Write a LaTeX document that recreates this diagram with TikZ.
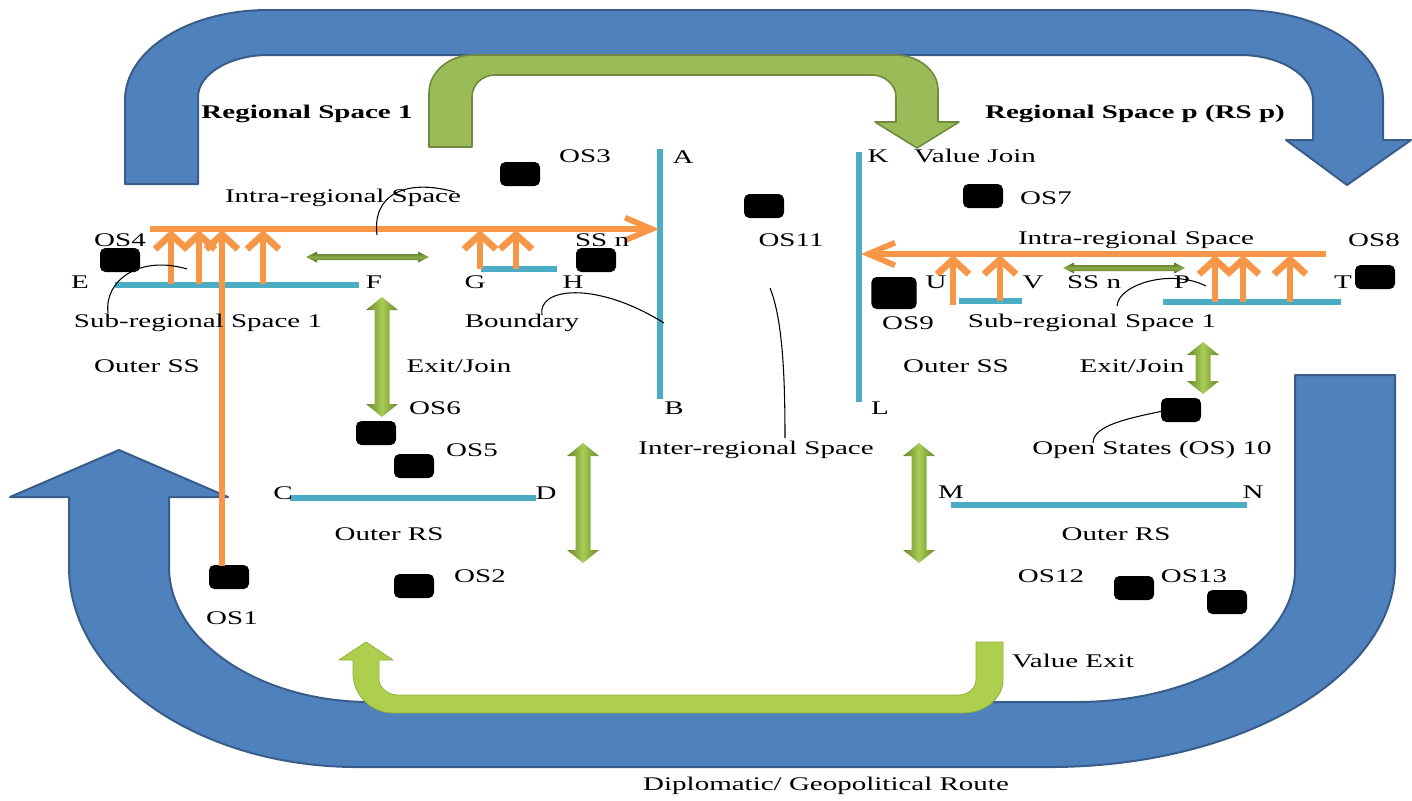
\documentclass[tikz,border=0pt]{standalone}
\usepackage{fontspec}
\setmainfont{Liberation Serif}
\usetikzlibrary{arrows.meta}
\definecolor{bluefill}{HTML}{4F81BD}
\definecolor{blueedge}{HTML}{385D8A}
\definecolor{greenfill}{HTML}{9BBB59}
\definecolor{greenedge}{HTML}{71893F}
\definecolor{limefill}{HTML}{AECF4E}
\definecolor{limeedge}{HTML}{8DAE3A}
\definecolor{orangeln}{HTML}{F79646}
\definecolor{cyanln}{HTML}{4BACC6}
\definecolor{darkgreen}{HTML}{66862A}
\definecolor{lightgreen}{HTML}{A9CC55}
\definecolor{olivedark}{HTML}{4F6B1E}
\definecolor{olivemid}{HTML}{8AAA4A}
\newcommand\vdblarrow[3]{%
  \shade[left color=darkgreen, right color=darkgreen, middle color=lightgreen]
  (#1,#2) -- (#1+16,#2+13) -- (#1+7.5,#2+13) -- (#1+7.5,#3-13) -- (#1+16,#3-13) -- (#1,#3)
  -- (#1-16,#3-13) -- (#1-7.5,#3-13) -- (#1-7.5,#2+13) -- (#1-16,#2+13) -- cycle;}
\newcommand\hdblarrow[3]{%
  \shade[top color=olivedark, bottom color=olivedark, middle color=olivemid]
  (#2,#1) -- (#2+11,#1-5.5) -- (#2+11,#1-3) -- (#3-11,#1-3) -- (#3-11,#1-5.5) -- (#3,#1)
  -- (#3-11,#1+5.5) -- (#3-11,#1+3) -- (#2+11,#1+3) -- (#2+11,#1+5.5) -- cycle;}
\begin{document}
\begin{tikzpicture}[x=0.75pt,y=-0.75pt,
  bigblue/.style={fill=bluefill, draw=blueedge, line width=1.5pt, line join=round},
  biggreen/.style={fill=greenfill, draw=greenedge, line width=1.2pt, line join=round},
  limegreen/.style={fill=limefill, draw=limeedge, line width=0.6pt, line join=round},
  cyanline/.style={draw=cyanln, line width=4pt},
  orangeH/.style={draw=orangeln, line width=4.3pt, -{Straight Barb[length=20pt,width=17pt]}},
  orangeV/.style={draw=orangeln, line width=5pt, -{Straight Barb[length=11pt,width=24pt]}},
  callout/.style={draw=black, line width=0.8pt},
  osbox/.style={fill=black, rounded corners=4pt, minimum width=30pt, minimum height=18pt, inner sep=0pt},
  lbl/.style={font=\fontsize{14.5}{17}\selectfont, xscale=1.5, inner sep=0pt},
  blbl/.style={font=\fontsize{14.5}{17}\selectfont\bfseries, xscale=1.5, inner sep=0pt}
]
\useasboundingbox (0,0) rectangle (1412,800);

% big blue arrows
\draw[bigblue] (125,184) -- (125,100) .. controls (125,50) and (189,10) .. (268,10) -- (1240,10)
  .. controls (1319,10) and (1383,50) .. (1383,100) -- (1383,140) -- (1411,140) -- (1347,185)
  -- (1286,140) -- (1313,140) -- (1313,100) .. controls (1313,75) and (1280,55) .. (1240,55)
  -- (268,55) .. controls (230,55) and (198,74) .. (198,97) -- (198,184) -- cycle;
\draw[bigblue] (1395,375) -- (1395,567) .. controls (1395,677) and (1240,767) .. (1050,767)
  -- (357,767) .. controls (199,767) and (69,677) .. (69,567) -- (69,497) -- (10,497) -- (119,450)
  -- (228,497) -- (169,497) -- (169,567) .. controls (169,641) and (260,702) .. (370,702)
  -- (1077,702) .. controls (1197,702) and (1295,643) .. (1295,570) -- (1295,375) -- cycle;

% green value arrows
\draw[biggreen] (429,147) -- (429,93) .. controls (429,72) and (449,55) .. (473,55) -- (895,55)
  .. controls (919,55) and (938,71) .. (938,90) -- (938,122) -- (959,122) -- (917,148) -- (875,122)
  -- (896,122) -- (896,97) .. controls (896,85) and (885,75) .. (872,75) -- (495,75)
  .. controls (482,75) and (472,85) .. (472,97) -- (472,147) -- cycle;
\draw[limegreen] (976,642) -- (1003,642) -- (1003,680) .. controls (1003,698) and (985,713) .. (963,713)
  -- (393,713) .. controls (371,713) and (353,695) .. (353,673) -- (353,660) -- (339,660) -- (366,642)
  -- (393,660) -- (379,660) -- (379,680) .. controls (379,688) and (389,695) .. (397,695) -- (959,695)
  .. controls (968,695) and (976,688) .. (976,680) -- cycle;

% green double arrows
\vdblarrow{382}{297}{417}
\vdblarrow{583}{443}{563}
\vdblarrow{919}{443}{563}
\vdblarrow{1203}{342}{394}
\hdblarrow{257}{306}{429}
\hdblarrow{268}{1063}{1185}

% cyan boundary lines
\coordinate (A) at (660,149); \coordinate (B) at (660,399);
\coordinate (K) at (859,152); \coordinate (L) at (859,402);
\coordinate (E) at (115,285); \coordinate (F) at (359,285);
\coordinate (G) at (481,269); \coordinate (H) at (557,269);
\coordinate (C) at (290,498); \coordinate (D) at (536,498);
\coordinate (M) at (951,505); \coordinate (N) at (1247,505);
\coordinate (U) at (959,301); \coordinate (V) at (1022,301);
\coordinate (P) at (1163,302); \coordinate (T) at (1341,302);
\draw[cyanline] (A) -- (B);
\draw[cyanline] (K) -- (L);
\draw[cyanline] (E) -- (F);
\draw[cyanline] (G) -- (H);
\draw[cyanline] (C) -- (D);
\draw[cyanline] (M) -- (N);
\draw[cyanline] (U) -- (V);
\draw[cyanline] (P) -- (T);

% black open-state boxes
\node[osbox] (os3) at (520,174) {};
\node[osbox] (os4) at (120,260) {};
\node[osbox] (ssnbox) at (596,260) {};
\node[osbox] (os7) at (983,196) {};
\node[osbox] (os11) at (764,206) {};
\node[osbox, minimum width=34pt, minimum height=24pt] (os9) at (894,293) {};
\node[osbox] (os8) at (1375,277) {};
\node[osbox] (os6) at (376,433) {};
\node[osbox] (os5) at (414,466) {};
\node[osbox] (os1) at (229,577) {};
\node[osbox] (os2) at (414,586) {};
\node[osbox] (os10) at (1181,410) {};
\node[osbox] (os12) at (1134,588) {};
\node[osbox] (os13) at (1227,602) {};

% orange intra-regional arrows (left)
\coordinate (lstart) at (150,229);
\coordinate (ltip) at (659,229);
\draw[orangeH] (lstart) -- (ltip);
\foreach \xx/\yy in {171/284, 199/284, 263/284, 480/269, 516/269}
  \draw[orangeV] (\xx,\yy) -- (\xx,230);
\coordinate (os1top) at (222,566);
\coordinate (os1tip) at (222,230);
\draw[orangeV] (os1top) -- (os1tip);

% orange intra-regional arrows (right)
\coordinate (rstart) at (1326,254);
\coordinate (rtip) at (861,254);
\draw[orangeH] (rstart) -- (rtip);
\foreach \xx/\yy in {953/305, 1000/301, 1215/302, 1243/302, 1290/302}
  \draw[orangeV] (\xx,\yy) -- (\xx,255);

% callout curves
\coordinate (c1a) at (377,235); \coordinate (c1b) at (455,192);
\draw[callout] (c1a) .. controls (372,195) and (405,178) .. (c1b);
\coordinate (c2a) at (108,313); \coordinate (c2b) at (187,269);
\draw[callout] (c2a) .. controls (104,280) and (140,255) .. (c2b);
\coordinate (c3a) at (542,315); \coordinate (c3b) at (664,323);
\draw[callout] (c3a) .. controls (537,288) and (595,280) .. (c3b);
\coordinate (c4a) at (770,288); \coordinate (c4b) at (785,438);
\draw[callout] (c4a) .. controls (783,320) and (785,380) .. (c4b);
\coordinate (c5a) at (1117,306); \coordinate (c5b) at (1206,286);
\draw[callout] (c5a) .. controls (1118,285) and (1170,268) .. (c5b);
\coordinate (c6a) at (1093,443); \coordinate (c6b) at (1163,411);
\draw[callout] (c6a) .. controls (1093,425) and (1130,418) .. (c6b);

% labels
\node[blbl] (rs1) at (307,114) {Regional Space 1};
\node[blbl] (rsp) at (1135,114) {Regional Space p (RS p)};
\node[lbl] (tos3) at (585,156) {OS3};
\node[lbl] (tA) at (683,157) {A};
\node[lbl] (tintraL) at (343,198) {Intra-regional Space};
\node[lbl] (tos4) at (120,240) {OS4};
\node[lbl] (tssnL) at (602,240) {SS n};
\node[lbl] (tE) at (80,282) {E};
\node[lbl] (tF) at (374,282) {F};
\node[lbl] (tG) at (475,282) {G};
\node[lbl] (tH) at (573,282) {H};
\node[lbl] (tsubL) at (198,323) {Sub-regional Space 1};
\node[lbl] (tbound) at (522,323) {Boundary};
\node[lbl] (touterssL) at (147,366) {Outer SS};
\node[lbl] (texitL) at (459,366) {Exit/Join};
\node[lbl] (tos6) at (435,408) {OS6};
\node[lbl] (tB) at (674,408) {B};
\node[lbl] (tos5) at (472,450) {OS5};
\node[lbl] (tinter) at (756,450) {Inter-regional Space};
\node[lbl] (tC) at (283,493) {C};
\node[lbl] (tD) at (546,493) {D};
\node[lbl] (touterrsL) at (389,534) {Outer RS};
\node[lbl] (tos2) at (480,576) {OS2};
\node[lbl] (tos1) at (232,618) {OS1};
\node[lbl] (troute) at (826,786) {Diplomatic/ Geopolitical Route};
\node[lbl] (tK) at (878,156) {K};
\node[lbl] (tvjoin) at (975,156) {Value Join};
\node[lbl] (tos7) at (1046,198) {OS7};
\node[lbl] (tos11) at (791,240) {OS11};
\node[lbl] (tintraR) at (1136,240) {Intra-regional Space};
\node[lbl] (tos8) at (1374,240) {OS8};
\node[lbl] (tU) at (936,282) {U};
\node[lbl] (tV) at (1033,282) {V};
\node[lbl] (tssnR) at (1094,282) {SS n};
\node[lbl] (tP) at (1182,282) {P};
\node[lbl] (tT) at (1343,282) {T};
\node[lbl] (tos9) at (908,323) {OS9};
\node[lbl] (tsubR) at (1092,323) {Sub-regional Space 1};
\node[lbl] (touterssR) at (956,366) {Outer SS};
\node[lbl] (texitR) at (1132,366) {Exit/Join};
\node[lbl] (tL) at (880,408) {L};
\node[lbl] (tos10) at (1152,450) {Open States (OS) 10};
\node[lbl] (tM) at (951,492) {M};
\node[lbl] (tN) at (1253,492) {N};
\node[lbl] (touterrsR) at (1116,534) {Outer RS};
\node[lbl] (tos12) at (1051,576) {OS12};
\node[lbl] (tos13) at (1194,576) {OS13};
\node[lbl] (tvexit) at (1073,661) {Value Exit};
\end{tikzpicture}
\end{document}
